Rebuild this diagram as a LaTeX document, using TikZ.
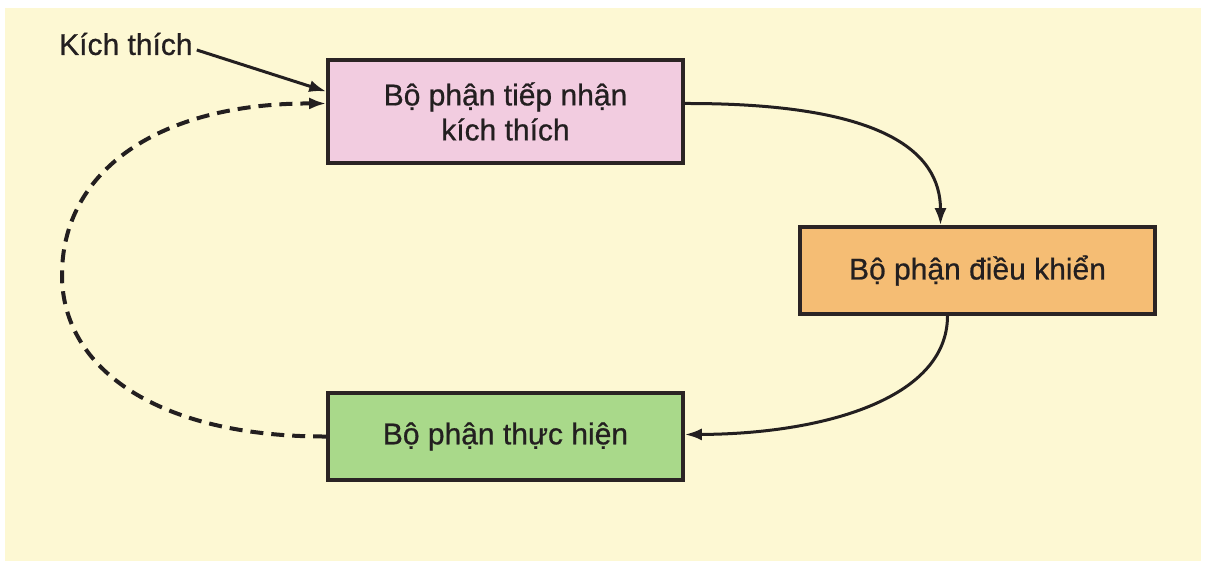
\documentclass[tikz,border=0pt]{standalone}
\usepackage{fontspec}
\setmainfont{Liberation Sans}
\newfontfamily\heavy{Liberation Sans}[FakeBold=0.7]
\usetikzlibrary{arrows.meta}

\definecolor{paper}{HTML}{FDF8D3}
\definecolor{pinkfill}{HTML}{F2CCE0}
\definecolor{orangefill}{HTML}{F5BD74}
\definecolor{greenfill}{HTML}{A9D98A}
\definecolor{ink}{HTML}{231F20}
\definecolor{edge}{HTML}{2B2424}

\tikzset{
  label text/.style={text=ink, font=\heavy\fontsize{30}{35}\selectfont},
  block/.style={label text, draw=edge, line width=3.6pt, minimum width=355pt,
    inner sep=0pt, align=center},
  link/.style={draw=ink, line width=3pt,
    -{Latex[length=17pt,width=12pt]}},
  backlink/.style={link, line width=4pt, dash pattern=on 13pt off 8pt},
}

\begin{document}
\begin{tikzpicture}[x=1pt,y=-1pt]
  % page and paper
  \useasboundingbox (0,0) rectangle (1206,564);
  \fill[white] (0,0) rectangle (1206,564);
  \fill[paper] (5,8) rectangle (1201,561);

  % blocks
  \node[block, fill=pinkfill, minimum height=103pt] (recv) at (505.5,111.5)
    {\raisebox{-4pt}{Bộ phận tiếp nhận}\\\raisebox{-4pt}{kích thích}};
  \node[block, fill=orangefill, minimum height=87pt] (ctrl) at (977.5,270.5)
    {Bộ phận điều khiển};
  \node[block, fill=greenfill, minimum height=87pt] (exec) at (505.5,436.5)
    {Bộ phận thực hiện};

  % stimulus label
  \node[label text, anchor=west, inner sep=0pt] (stim) at (59,44) {Kích thích};

  % anchor points on the block edges
  \coordinate (recvIn1) at ([yshift=20pt]recv.west);
  \coordinate (recvIn2) at ([yshift=8pt]recv.west);
  \coordinate (recvOut) at ([yshift=8pt]recv.east);
  \coordinate (ctrlIn)  at ([xshift=-37pt]ctrl.north);
  \coordinate (ctrlOut) at ([xshift=-30pt]ctrl.south);
  \coordinate (execIn)  at ([yshift=2pt]exec.east);
  \coordinate (loopL)   at (62,275);

  % connectors
  \draw[link] ([xshift=4pt,yshift=-6pt]stim.east) -- (recvIn1);
  \draw[link] (recvOut) .. controls (880,103) and (ctrlIn |- 0,150) .. (ctrlIn);
  \draw[link] (ctrlOut) .. controls (ctrlOut |- 0,400) and (820,434) .. (execIn);
  \draw[backlink] (exec.west) .. controls (160,437) and (62,370) .. (loopL)
    .. controls (62,170) and (160,103) .. (recvIn2);
\end{tikzpicture}
\end{document}
